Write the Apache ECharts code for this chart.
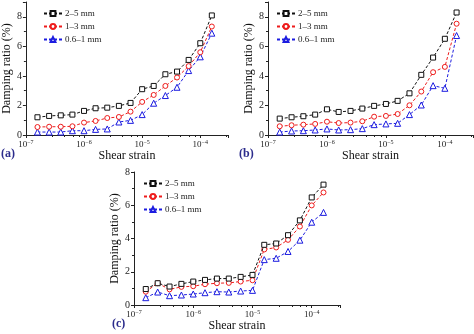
<!DOCTYPE html>
<html><head><meta charset="utf-8">
<script src="https://cdn.jsdelivr.net/npm/echarts@6/dist/echarts.min.js"></script>
<style>html,body{margin:0;padding:0;background:#fff}#c{width:474px;height:334px}</style>
</head><body><div id="c"></div>
<script>
// Shear strain values (x), shared by all panels
const strain = [1.58e-7, 2.51e-7, 3.98e-7, 6.31e-7, 1e-6, 1.58e-6, 2.51e-6, 3.98e-6, 6.31e-6, 1e-5, 1.58e-5, 2.51e-5, 3.98e-5, 6.31e-5, 1e-4, 1.58e-4];
const seriesNames = ['2\u20135 mm', '1\u20133 mm', '0.6\u20131 mm'];
const panelLabels = ['(a)', '(b)', '(c)'];
const yTicks = [0, 2, 4, 6, 8];
// Panel (a)
const a_25 = [1.20, 1.29, 1.33, 1.38, 1.63, 1.81, 1.85, 1.97, 2.17, 3.10, 3.32, 4.11, 4.29, 5.08, 6.21, 8.09];
const a_13 = [0.54, 0.56, 0.56, 0.59, 0.84, 0.95, 1.15, 1.22, 1.58, 2.24, 2.71, 3.32, 3.89, 4.66, 5.60, 7.34];
const a_061 = [0.20, 0.20, 0.20, 0.29, 0.29, 0.38, 0.41, 0.88, 0.99, 1.38, 2.15, 2.67, 3.23, 4.36, 5.29, 6.89];
// Panel (b)
const b_25 = [1.11, 1.20, 1.27, 1.38, 1.74, 1.56, 1.63, 1.79, 1.97, 2.10, 2.31, 2.82, 4.07, 5.24, 6.51, 8.29];
const b_13 = [0.59, 0.66, 0.70, 0.75, 0.90, 0.81, 0.84, 0.93, 1.24, 1.29, 1.42, 2.01, 2.94, 4.25, 4.61, 7.53];
const b_061 = [0.20, 0.27, 0.29, 0.34, 0.41, 0.34, 0.36, 0.43, 0.70, 0.75, 0.79, 1.38, 2.03, 3.34, 3.16, 6.73];
// Panel (c)
const c_25 = [0.96, 1.31, 1.11, 1.27, 1.41, 1.51, 1.59, 1.59, 1.69, 1.81, 3.62, 3.70, 4.20, 5.09, 6.47, 7.24];
const c_13 = [0.80, 1.31, 0.94, 1.09, 1.13, 1.25, 1.31, 1.33, 1.41, 1.49, 3.34, 3.46, 3.92, 4.72, 5.99, 6.77];
const c_061 = [0.44, 0.78, 0.56, 0.60, 0.66, 0.74, 0.80, 0.78, 0.84, 0.88, 2.73, 2.81, 3.22, 3.90, 4.98, 5.57];

const panels = [[a_25, a_13, a_061], [b_25, b_13, b_061], [c_25, c_13, c_061]];
const yMax = [9, 9, 8];
const colors = ['#111111', '#ee1c1c', '#1c1ce0'];
const symbols = ['rect', 'circle', 'triangle'];
const FONT = '"Liberation Serif", "Times New Roman", serif';

const grids = [
  {left: 22, right: 246, top: 2, bottom: 199},
  {left: 268, right: 1, top: 2, bottom: 199},
  {left: 134, right: 134, top: 172, bottom: 29}
];

function supLabel(v) {
  const e = Math.round(Math.log10(v));
  if (Math.abs(Math.log10(v) - e) > 1e-6) return '';
  return '{b|10}{s|\u2212' + Math.abs(e) + '}';
}

const xAxes = [], yAxes = [], series = [], legends = [], graphics = [];
const legendPos = [{left: 43, top: 9}, {left: 276, top: 9}, {left: 143, top: 179}];
const labelPos = [{left: 1, top: 148}, {left: 239, top: 148}, {left: 112, top: 318}];

for (let p = 0; p < 3; p++) {
  xAxes.push({
    gridIndex: p, type: 'log', logBase: 10, min: 1e-7, max: 3e-4,
    name: 'Shear strain', nameLocation: 'middle', nameGap: 15,
    nameTextStyle: {fontFamily: FONT, fontSize: 12, color: '#111'},
    axisLine: {lineStyle: {color: '#222', width: 1}},
    axisTick: {show: true, inside: false, length: 3, lineStyle: {color: '#222'}},
    minorTick: {show: true, length: 2, lineStyle: {color: '#222'}},
    splitLine: {show: false},
    axisLabel: {
      margin: 4, showMaxLabel: false,
      formatter: supLabel,
      rich: {
        b: {fontFamily: FONT, fontSize: 9, color: '#222'},
        s: {fontFamily: FONT, fontSize: 6, color: '#222', verticalAlign: 'bottom', padding: [0, 0, 5, 0]}
      }
    }
  });
  yAxes.push({
    gridIndex: p, type: 'value', min: 0, max: yMax[p], interval: 2,
    name: 'Damping ratio (%)', nameLocation: 'middle', nameGap: 11,
    nameTextStyle: {fontFamily: FONT, fontSize: 12, color: '#111'},
    axisLine: {show: true, lineStyle: {color: '#222', width: 1}},
    axisTick: {show: true, length: 3, lineStyle: {color: '#222'}},
    minorTick: {show: true, splitNumber: 2, length: 2, lineStyle: {color: '#222'}},
    splitLine: {show: false},
    axisLabel: {
      margin: 4, fontFamily: FONT, fontSize: 10, color: '#222',
      formatter: function (v) { return yTicks.indexOf(v) >= 0 ? String(v) : ''; }
    }
  });
  const legendData = [];
  for (let s = 0; s < 3; s++) {
    const id = 'p' + p + 's' + s;
    legendData.push({name: id});
    series.push({
      id: id, name: id, type: 'line', xAxisIndex: p, yAxisIndex: p,
      data: strain.map((x, i) => [x, panels[p][s][i]]),
      symbol: symbols[s], symbolSize: s === 2 ? 6 : 5,
      showAllSymbol: true,
      lineStyle: {color: colors[s], width: 1, type: [3, 2]},
      itemStyle: {color: '#fff', borderColor: colors[s], borderWidth: 1},
      emphasis: {disabled: true},
      animation: false, z: 3 - s
    });
  }
  legends.push({
    left: legendPos[p].left, top: legendPos[p].top, orient: 'vertical',
    itemWidth: 18, itemHeight: 6, itemGap: 4,
    data: legendData,
    formatter: function (n) { return seriesNames[+n.slice(-1)]; },
    textStyle: {fontFamily: FONT, fontSize: 9, color: '#222', padding: [0, 0, 0, -2]},
    selectedMode: false, padding: 0
  });
  graphics.push({
    type: 'text', left: labelPos[p].left, top: labelPos[p].top,
    style: {text: panelLabels[p], font: 'bold 12px ' + FONT, fill: '#2b2b8c'}
  });
}

const chart = echarts.init(document.getElementById('c'), null, {renderer: 'canvas'});
chart.setOption({
  animation: false,
  backgroundColor: '#fff',
  grid: grids,
  xAxis: xAxes,
  yAxis: yAxes,
  legend: legends,
  series: series,
  graphic: graphics
});
</script></body></html>
